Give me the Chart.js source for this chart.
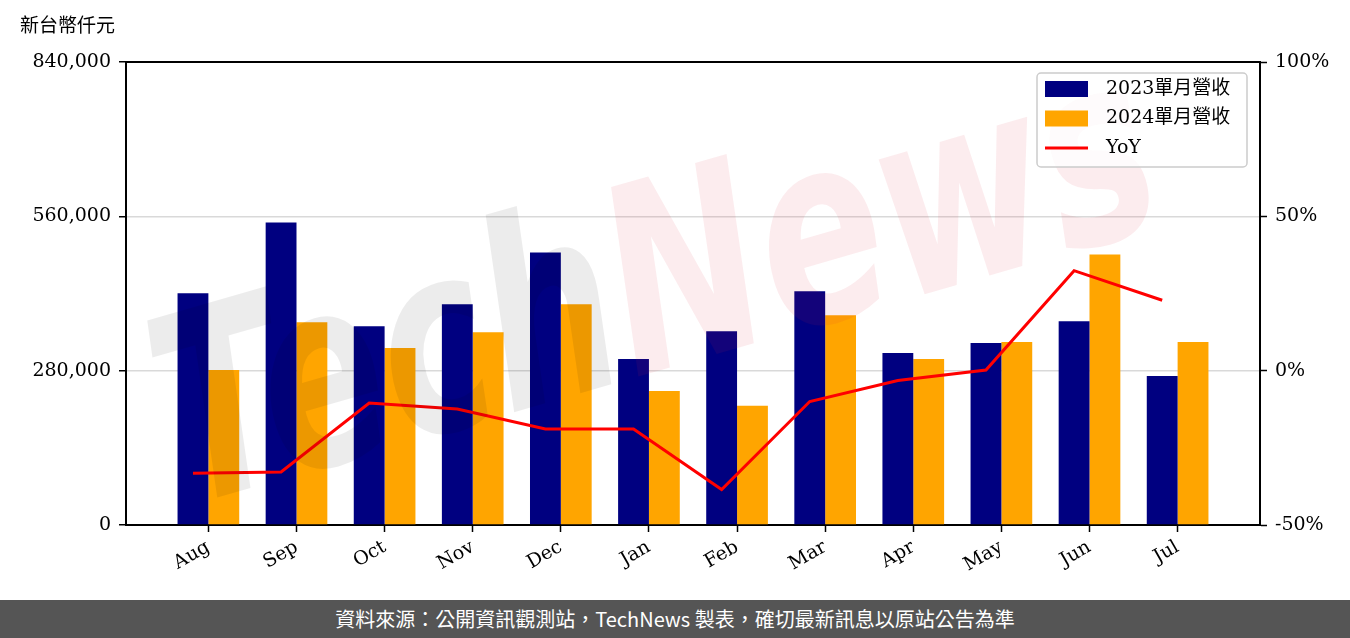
<!DOCTYPE html>
<html>
<head>
<meta charset="utf-8">
<script src="https://cdn.jsdelivr.net/npm/chart.js@4.4.1/dist/chart.umd.min.js"></script>
<style>
  body { margin: 0; background: #fff; }
  #footer {
    width: 1350px; height: 38px; background: #555555; color: #fff;
    font: 400 20px 'Noto Sans CJK TC', sans-serif; text-align: center; line-height: 38px;
  }
</style>
</head>
<body>
<canvas id="graph" width="1350" height="600"></canvas>
<div id="footer">資料來源：公開資訊觀測站，TechNews 製表，確切最新訊息以原站公告為準</div>
<script>
// data
const months = ['Aug', 'Sep', 'Oct', 'Nov', 'Dec', 'Jan', 'Feb', 'Mar', 'Apr', 'May', 'Jun', 'Jul'];
const rev_2023 = [420400, 548600, 360800, 400500, 494400, 301100, 351700, 424000, 312000, 330000, 369800, 270400];
const rev_2024 = [281300, 368000, 321000, 349900, 400500, 243300, 216200, 380600, 301100, 331900, 490800, 331900];
const yoy = [-33.2, -32.8, -10.5, -12.4, -18.9, -18.9, -38.5, -10.0, -3.2, 0.2, 32.4, 22.8];
const left_ticks = [0, 280000, 560000, 840000];
const right_ticks = [-50, 0, 50, 100];

const serif = "'DejaVu Serif', 'Noto Sans CJK TC', serif";
Chart.defaults.font.family = serif;
Chart.defaults.font.size = 19;
Chart.defaults.color = '#000';

// frame, unit title, legend box and watermark
const extras = {
  id: 'extras',
  afterDatasetsDraw(chart) {
    const ctx = chart.ctx, a = chart.chartArea;
    ctx.save();
    ctx.beginPath();
    ctx.rect(a.left, a.top, a.right - a.left, a.bottom - a.top);
    ctx.clip();
    ctx.translate(660, 300);
    ctx.rotate(-0.28);
    ctx.scale(0.92, 1.3);
    ctx.font = "italic bold 200px 'DejaVu Sans'";
    ctx.textBaseline = 'middle';
    let w1 = ctx.measureText('Tech').width;
    let w2 = ctx.measureText('News').width;
    let x0 = -(w1 + w2) / 2;
    ctx.fillStyle = 'rgba(0,0,0,0.075)';
    ctx.fillText('Tech', x0, 0);
    ctx.fillStyle = 'rgba(215,40,60,0.085)';
    ctx.fillText('News', x0 + w1, 0);
    ctx.restore();
  },
  afterDraw(chart) {
    const ctx = chart.ctx, a = chart.chartArea;
    ctx.save();
    // top spine
    ctx.strokeStyle = '#000';
    ctx.lineWidth = 2;
    ctx.beginPath();
    ctx.moveTo(a.left - 1, a.top);
    ctx.lineTo(a.right + 1, a.top);
    ctx.stroke();

    // unit
    ctx.fillStyle = '#000';
    ctx.font = "19px " + serif;
    ctx.textBaseline = 'middle';
    ctx.fillText('新台幣仟元', 20, 27);

    // legend
    let bx = a.right - 223, by = a.top + 11, bw = 210, bh = 94;
    ctx.fillStyle = 'rgba(255,255,255,0.8)';
    ctx.strokeStyle = '#cccccc';
    ctx.lineWidth = 1.5;
    ctx.beginPath();
    ctx.roundRect(bx, by, bw, bh, 4);
    ctx.fill();
    ctx.stroke();
    chart.data.datasets.forEach(function (ds, i) {
      let cy = by + 16 + i * 29.5;
      if (ds.type === 'line') {
        ctx.strokeStyle = ds.borderColor;
        ctx.lineWidth = 3;
        ctx.beginPath();
        ctx.moveTo(bx + 8, cy);
        ctx.lineTo(bx + 51, cy);
        ctx.stroke();
      } else {
        ctx.fillStyle = ds.backgroundColor;
        ctx.fillRect(bx + 8, cy - 8, 43, 16);
      }
      ctx.fillStyle = '#000';
      ctx.fillText(ds.label, bx + 69, cy);
    });
    ctx.restore();
  }
};

const config = {
  type: 'bar',
  data: {
    datasets: [{
      label: '2023單月營收',
      data: rev_2023.map((v, i) => ({x: i, y: v})),
      backgroundColor: '#000080',
      yAxisID: 'y',
      order: 1
    },
    {
      label: '2024單月營收',
      data: rev_2024.map((v, i) => ({x: i, y: v})),
      backgroundColor: '#ffa500',
      yAxisID: 'y',
      order: 1
    },
    {
      type: 'line',
      label: 'YoY',
      // line sits on the centre of the 2023 bar
      data: yoy.map((v, i) => ({x: i - 0.175, y: v})),
      borderColor: '#ff0000',
      borderWidth: 3,
      pointRadius: 0,
      yAxisID: 'y2',
      order: 0
    }]
  },
  options: {
    responsive: false,
    animation: false,
    devicePixelRatio: 1,
    layout: { padding: { top: 62, left: 0, right: 0, bottom: 0 } },
    datasets: { bar: { categoryPercentage: 0.7, barPercentage: 1 } },
    plugins: { legend: { display: false }, tooltip: { enabled: false } },
    scales: {
      x: {
        type: 'linear',
        offset: false,
        min: -0.935,
        max: 11.935,
        afterBuildTicks: s => { s.ticks = months.map((m, i) => ({value: i})); },
        afterFit: s => { s.height = 75; },
        ticks: { callback: v => months[v], autoSkip: false, minRotation: 30, maxRotation: 30, padding: 4 },
        grid: { drawOnChartArea: false, offset: false, tickLength: 7, tickColor: '#000', tickWidth: 1.5 },
        border: { color: '#000', width: 2 }
      },
      y: {
        position: 'left',
        min: 0,
        max: 840000,
        afterBuildTicks: s => { s.ticks = left_ticks.map(v => ({value: v})); },
        afterFit: s => { s.width = 126; },
        ticks: { callback: v => v.toLocaleString('en-US'), padding: 8 },
        grid: { color: '#d9d9d9', lineWidth: 1.5, tickColor: '#000', tickLength: 7, tickWidth: 1.5 },
        border: { color: '#000', width: 2 }
      },
      y2: {
        position: 'right',
        min: -50,
        max: 100,
        afterBuildTicks: s => { s.ticks = right_ticks.map(v => ({value: v})); },
        afterFit: s => { s.width = 90; },
        ticks: { callback: v => v + '%', padding: 8 },
        grid: { drawOnChartArea: false, tickColor: '#000', tickLength: 7, tickWidth: 1.5 },
        border: { color: '#000', width: 2 }
      }
    }
  },
  plugins: [extras]
};

const revChart = new Chart(document.getElementById('graph'), config);
</script>
</body>
</html>
